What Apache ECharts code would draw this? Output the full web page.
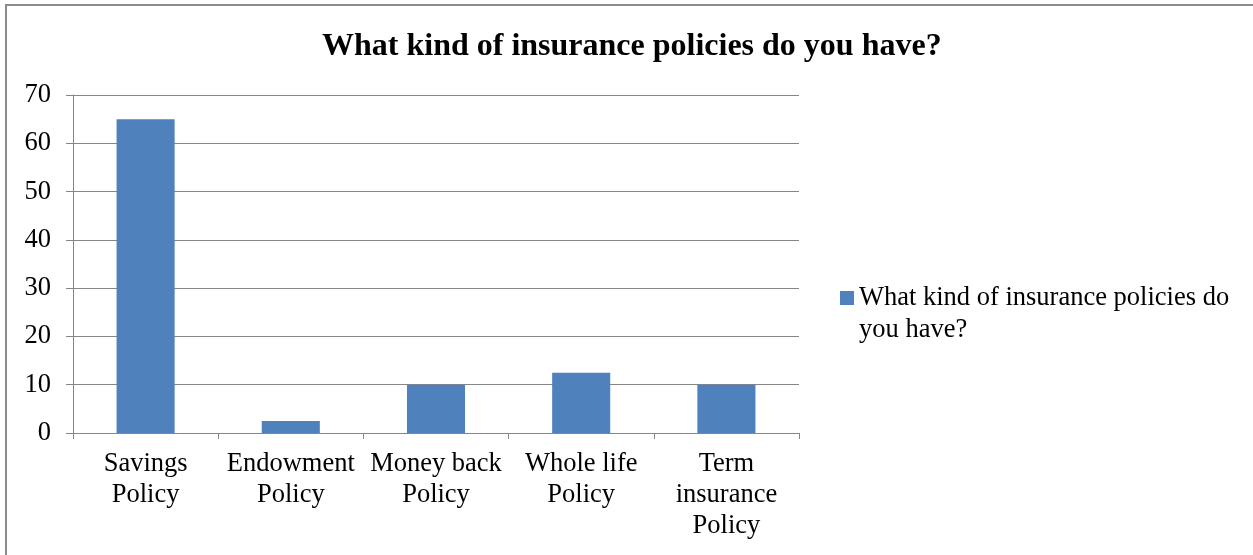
<!DOCTYPE html>
<html>
<head>
<meta charset="utf-8">
<script src="https://cdn.jsdelivr.net/npm/echarts@6/dist/echarts.min.js"></script>
<style>
  html, body { margin: 0; padding: 0; background: #fff; }
  #chart { width: 1253px; height: 555px; }
</style>
</head>
<body>
<div id="chart"></div>
<script>
window.addEventListener('load', function () {
  // 数据
  const categories = ['Savings\nPolicy', 'Endowment\nPolicy', 'Money back\nPolicy', 'Whole life\nPolicy', 'Term\ninsurance\nPolicy'];
  const values = [65, 2.5, 10, 12.5, 10];
  const seriesName = 'What kind of insurance policies do you have?';
  const yTicks = [0, 70, 10]; // min, max, interval

  const serif = '"Liberation Serif", "Times New Roman", serif';
  const chart = echarts.init(document.getElementById('chart'));

  chart.setOption({
    animation: false,
    textStyle: { fontFamily: serif },
    graphic: [{
      type: 'rect',
      shape: { x: 6, y: 5, width: 1300, height: 600 },
      style: { fill: 'none', stroke: '#8c8c8c', lineWidth: 2 }
    }],
    title: {
      text: seriesName,
      left: 317,
      top: 26,
      textStyle: { fontFamily: serif, fontSize: 32, fontWeight: 'bold', color: '#000' }
    },
    legend: {
      left: 835,
      top: 245,
      itemWidth: 14,
      itemHeight: 14,
      icon: 'rect',
      // 首行留空，让图标对齐第一行文字
      formatter: () => ' \nWhat kind of insurance policies do\nyou have?',
      textStyle: { fontFamily: serif, fontSize: 26.5, lineHeight: 32, color: '#000' }
    },
    grid: { left: 73, right: 454, top: 95, bottom: 122, containLabel: false },
    xAxis: {
      type: 'category',
      data: categories,
      axisLine: { lineStyle: { color: '#868686', width: 1 } },
      axisTick: { show: true, length: 6, alignWithLabel: false, lineStyle: { color: '#868686' } },
      axisLabel: { fontFamily: serif, fontSize: 26.5, lineHeight: 31, color: '#000', margin: 16, interval: 0 }
    },
    yAxis: {
      type: 'value',
      min: yTicks[0],
      max: yTicks[1],
      interval: yTicks[2],
      axisLine: { show: true, lineStyle: { color: '#868686', width: 1 } },
      axisTick: { show: true, length: 7, lineStyle: { color: '#868686' } },
      splitLine: { lineStyle: { color: '#868686', width: 1 } },
      axisLabel: { fontFamily: serif, fontSize: 26.5, color: '#000', margin: 22 }
    },
    series: [{
      name: seriesName,
      type: 'bar',
      data: values,
      barWidth: '40%',
      itemStyle: { color: '#4f81bd' }
    }]
  });
});
</script>
</body>
</html>
